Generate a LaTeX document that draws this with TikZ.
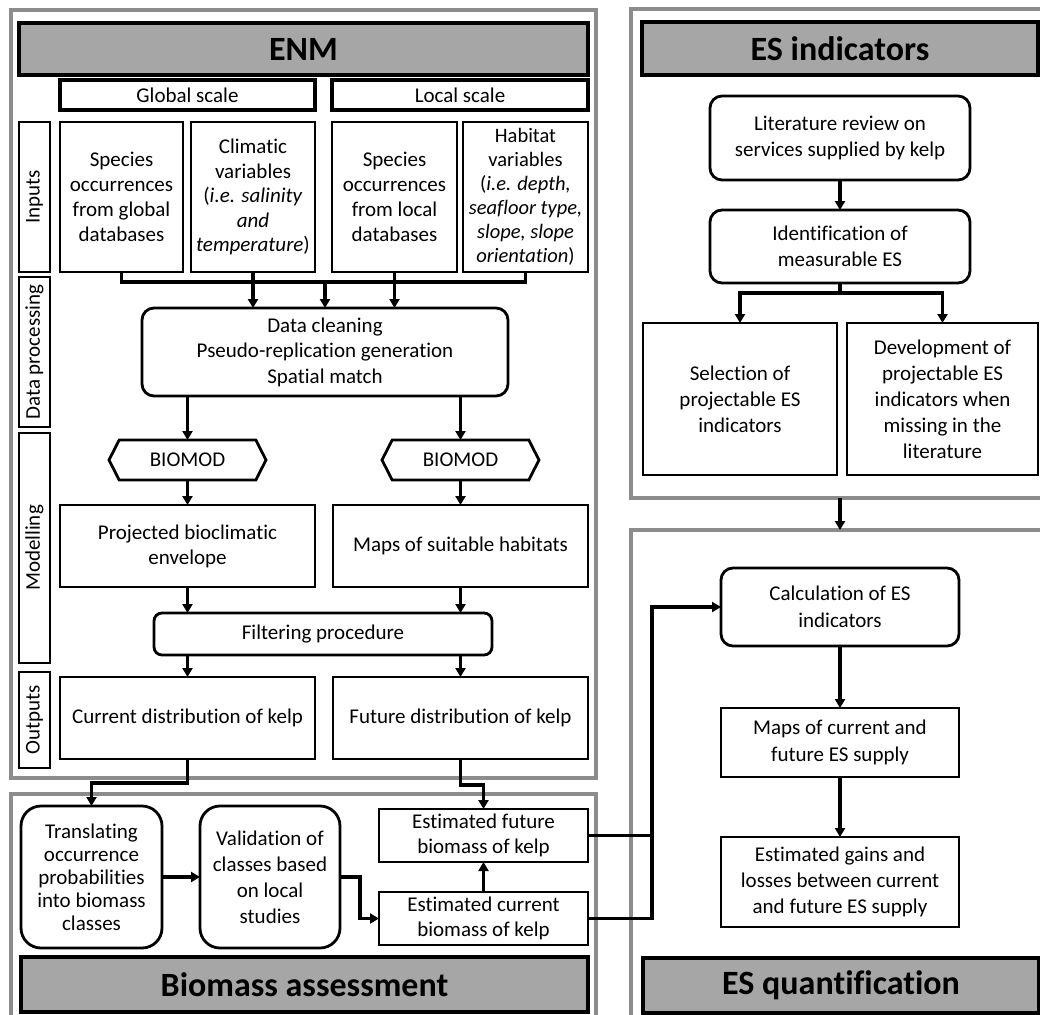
\documentclass[tikz,border=0pt]{standalone}
\usepackage{fontspec}
\setmainfont{Carlito}[Ligatures={NoCommon}]
\usetikzlibrary{arrows.meta,shapes.symbols}
\definecolor{framegray}{RGB}{140,140,140}
\definecolor{hdrgray}{RGB}{166,166,166}
\begin{document}
\begin{tikzpicture}[x=1pt,y=-1pt,
  every node/.style={font=\fontsize{21}{25}\selectfont, align=center, inner sep=0pt, outer sep=0pt},
  box/.style={draw, line width=2.8pt, fill=white},
  rbox/.style={box, rounded corners=12pt},
  hdr/.style={draw, line width=3.2pt, fill=hdrgray, font=\fontsize{34}{40}\selectfont\bfseries},
  frame/.style={draw=framegray, line width=3.2pt},
  lbl/.style={draw, line width=2.8pt, rotate=90},
  hexa/.style={draw, line width=2.8pt, fill=white, shape=signal, signal to=west and east, signal pointer angle=126},
  ln/.style={line width=3.2pt},
  arr/.style={line width=3.2pt, -{Triangle[length=9pt,width=10pt]}},
]
\useasboundingbox (0,0) rectangle (1040,1014);

% frames
\node[frame, minimum width=585, minimum height=768] (fENM) at (303.5,394) {};
\node[frame, minimum width=585, minimum height=231] (fBIO) at (303.5,909.5) {};
\node[frame, minimum width=419, minimum height=489] (fESI) at (840.5,253.5) {};
\node[frame, minimum width=419, minimum height=495] (fESQ) at (840.5,777.5) {};

% headers
\node[hdr, minimum width=569, minimum height=52] (hENM) at (303.5,49) {ENM};
\node[hdr, minimum width=567, minimum height=55] (hBIO) at (304.5,984.5) {Biomass assessment};
\node[hdr, minimum width=396, minimum height=53] (hESI) at (840,48.5) {ES indicators};
\node[hdr, minimum width=396, minimum height=55] (hESQ) at (841,985.5) {ES quantification};

% scale headers
\node[box, line width=3.2pt, minimum width=255, minimum height=30] (glob) at (187.5,95) {Global scale};
\node[box, line width=3.2pt, minimum width=256, minimum height=30] (loc) at (460,95) {Local scale};

% side labels
\node[lbl, minimum width=150, minimum height=31] (lIn) at (34.5,197) {Inputs};
\node[lbl, minimum width=150, minimum height=31] (lData) at (34.5,352) {Data processing};
\node[lbl, minimum width=230, minimum height=31] (lMod) at (34.5,548) {Modelling};
\node[lbl, minimum width=96, minimum height=31] (lOut) at (34.5,720) {Outputs};

% inputs
\node[box, minimum width=123, minimum height=150] (in1) at (121.5,197) {Species\\occurrences\\from global\\databases};
\node[box, minimum width=124, minimum height=150, font=\fontsize{21}{24.5}\selectfont] (in2) at (253,197) {Climatic\\variables\\(\textit{i.e. salinity}\\\textit{and}\\\textit{temperature})};
\node[box, minimum width=125, minimum height=150] (in3) at (394.5,197) {Species\\occurrences\\from local\\databases};
\node[box, minimum width=125, minimum height=150, font=\fontsize{20.5}{24}\selectfont] (in4) at (525.5,197) {Habitat\\variables\\(\textit{i.e. depth,}\\\textit{seafloor type,}\\\textit{slope, slope}\\\textit{orientation})};

% processing
\node[rbox, minimum width=366, minimum height=88, font=\fontsize{21}{25.5}\selectfont] (data) at (325,352) {Data cleaning\\Pseudo-replication generation\\Spatial match};
\node[hexa, minimum width=157, minimum height=40] (bioL) at (187.5,460) {BIOMOD};
\node[hexa, minimum width=157, minimum height=40] (bioR) at (460.5,460) {BIOMOD};
\node[box, minimum width=255, minimum height=82] (proj) at (187.5,546) {Projected bioclimatic\\envelope};
\node[box, minimum width=255, minimum height=82] (maps) at (460.5,546) {Maps of suitable habitats};
\node[rbox, rounded corners=8pt, minimum width=338, minimum height=42] (filt) at (323,634) {Filtering procedure};
\node[box, minimum width=255, minimum height=82] (oCur) at (187.5,718) {Current distribution of kelp};
\node[box, minimum width=255, minimum height=82] (oFut) at (460.5,718) {Future distribution of kelp};

% biomass
\node[rbox, rounded corners=20pt, minimum width=141, minimum height=142, font=\fontsize{21}{23}\selectfont] (trans) at (91.5,877) {Translating\\occurrence\\probabilities\\into biomass\\classes};
\node[rbox, rounded corners=20pt, minimum width=140, minimum height=142, font=\fontsize{21}{26}\selectfont] (valid) at (270,877) {Validation of\\classes based\\on local\\studies};
\node[box, minimum width=209, minimum height=53] (eFut) at (483.5,835.5) {Estimated future\\biomass of kelp};
\node[box, minimum width=209, minimum height=53] (eCur) at (483.5,918.5) {Estimated current\\biomass of kelp};

% ES indicators
\node[rbox, minimum width=260, minimum height=84, font=\fontsize{21}{26}\selectfont] (lit) at (840,138) {Literature review on\\services supplied by kelp};
\node[rbox, minimum width=260, minimum height=73, font=\fontsize{21}{26}\selectfont] (ident) at (840,246.5) {Identification of\\measurable ES};
\node[box, minimum width=194, minimum height=152, font=\fontsize{21}{26}\selectfont] (sel) at (740,399) {Selection of\\projectable ES\\indicators};
\node[box, minimum width=191, minimum height=152, font=\fontsize{21}{26}\selectfont] (dev) at (942.5,399) {Development of\\projectable ES\\indicators when\\missing in the\\literature};

% ES quantification
\node[rbox, minimum width=238, minimum height=78, font=\fontsize{21}{27}\selectfont] (calc) at (840,607) {Calculation of ES\\indicators};
\node[box, minimum width=238, minimum height=69, font=\fontsize{21}{27}\selectfont] (mES) at (840,742.5) {Maps of current and\\future ES supply};
\node[box, minimum width=238, minimum height=90, font=\fontsize{21}{26}\selectfont] (gains) at (840,882) {Estimated gains and\\losses between current\\and future ES supply};

% connectors ENM
\coordinate (bus) at (325,282);
\draw[ln] (in1.south) |- (bus) -| (in4.south);
\draw[arr] (in2.south) -- (in2.south |- data.north);
\draw[arr] (bus) -- (bus |- data.north);
\draw[arr] (in3.south) -- (in3.south |- data.north);
\draw[arr] (data.south -| bioL) -- (bioL.north);
\draw[arr] (data.south -| bioR) -- (bioR.north);
\draw[arr] (bioL.south) -- (proj.north);
\draw[arr] (bioR.south) -- (maps.north);
\draw[arr] (proj.south) -- (proj.south |- filt.north);
\draw[arr] (maps.south) -- (maps.south |- filt.north);
\draw[arr] (filt.south -| oCur) -- (oCur.north);
\draw[arr] (filt.south -| oFut) -- (oFut.north);

% connectors biomass
\draw[arr] (oCur.south) -- ++(0,24) -| (trans.north);
\draw[arr] (oFut.south) -- ++(0,26) -| (eFut.north);
\draw[arr] (trans.east) -- (valid.west);
\draw[arr] (valid.east) -- ++(20,0) |- (eCur.west);
\draw[arr] (eCur.north) -- (eFut.south);
\coordinate (jx) at (652,607);
\draw[ln] (eFut.east) -- (eFut.east -| jx);
\draw[arr] (eCur.east) -| (jx) -- (calc.west);

% connectors ES
\draw[arr] (lit.south) -- (ident.north);
\coordinate (split) at (840,293);
\draw[ln] (ident.south) -- (split);
\draw[arr] (split) -| (sel.north);
\draw[arr] (split) -| (dev.north);
\draw[arr] (fESI.south -| calc) -- (fESQ.north -| calc);
\draw[arr] (calc.south) -- (mES.north);
\draw[arr] (mES.south) -- (gains.north);
\end{tikzpicture}
\end{document}
